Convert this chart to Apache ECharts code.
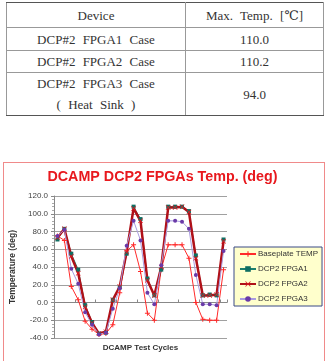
<!DOCTYPE html>
<html>
<head>
<meta charset="utf-8">
<script src="https://cdn.jsdelivr.net/npm/echarts@6/dist/echarts.min.js"></script>
<style>
    html, body { margin: 0; padding: 0; width: 325px; height: 361px; overflow: hidden; background: #fff; }
    #tbl {
        position: absolute; left: 6px; top: 2px; width: 318px;
        border-collapse: collapse;
        font-family: "Liberation Serif", "DejaVu Serif", serif;
        font-size: 13px; color: #333; word-spacing: 4px;
    }
    #tbl td { border: 1px solid #999; text-align: center; padding: 0; line-height: 21px; }
    #tbl tr:first-child td { border-top: 1px solid #555; }
    #tbl tr:last-child td { border-bottom: 1px solid #555; }
    #frame { position: absolute; left: 3px; top: 162px; width: 320px; height: 260px; border: 1px solid #f08a8a; }
    #chart { position: absolute; left: 0; top: 150px; width: 325px; height: 211px; }
</style>
</head>
<body>
<table id="tbl">
    <tr style="height:25px"><td style="width:178px">Device</td><td>Max. Temp. [℃]</td></tr>
    <tr style="height:23px"><td>DCP#2 FPGA1 Case</td><td>110.0</td></tr>
    <tr style="height:22px"><td>DCP#2 FPGA2 Case</td><td>110.2</td></tr>
    <tr style="height:43px"><td>DCP#2 FPGA3 Case<br>( Heat Sink )</td><td>94.0</td></tr>
</table>
<div id="frame"></div>
<div id="chart"></div>
<script>
// 25 test cycles, no labels on the x axis
const cycles = ['1', '2', '3', '4', '5', '6', '7', '8', '9', '10', '11', '12', '13',
    '14', '15', '16', '17', '18', '19', '20', '21', '22', '23', '24', '25'];

const baseplate = [75, 70, 18, 3, -21, -30, -36, -35, -25, 11, 58, 65, 35,
    -12, -20, 38, 65, 65, 65, 50, 0, -19, -20, -20, 37];
const fpga1 = [71, 83, 55, 37, -3, -22, -35, -34, 3, 17, 55, 108, 94,
    27, 8, 37, 108, 108, 108, 103, 53, 8, 9, 8, 71];
const fpga2 = [73, 83, 52, 33, -5, -23, -35, -33, 3, 18, 57, 106, 92,
    25, 8, 40, 107, 107, 108, 102, 50, 8, 8, 9, 69];
const fpga3 = [75, 82, 38, 21, -11, -25, -36, -34, -7, 16, 64, 92, 70,
    11, -2, 42, 92, 92, 91, 83, 31, -2, -2, -3, 58];

// маркеры "+" и "x" как в Excel
const plusIcon = 'path://M4,0H6V4H10V6H6V10H4V6H0V4H4Z';
const crossIcon = 'path://M1,0L5,4L9,0L10,1L6,5L10,9L9,10L5,6L1,10L0,9L4,5L0,1Z';

const chart = echarts.init(document.getElementById('chart'), null, { renderer: 'canvas' });

const option = {
    animation: false,
    title: {
        text: 'DCAMP DCP2 FPGAs Temp. (deg)',
        left: 'center',
        top: 20,
        padding: 0,
        textStyle: {
            color: '#e8191e',
            fontSize: 14.3,
            fontWeight: 'bold',
            fontFamily: 'Liberation Sans, Arial, sans-serif'
        }
    },
    legend: {
        orient: 'vertical',
        left: 234,
        top: 97,
        padding: [3, 4, 3, 5],
        itemWidth: 16,
        itemHeight: 7,
        itemGap: 7,
        backgroundColor: '#ffffcc',
        borderColor: '#3b4a86',
        borderWidth: 1,
        borderRadius: 0,
        textStyle: {
            color: '#333',
            fontSize: 8,
            padding: [0, 0, 0, -3],
            fontFamily: 'Liberation Sans, Arial, sans-serif'
        },
        data: ['Baseplate TEMP', 'DCP2 FPGA1', 'DCP2 FPGA2', 'DCP2 FPGA3']
    },
    grid: {
        left: 54,
        top: 46,
        width: 173,
        height: 142,
        containLabel: false
    },
    xAxis: {
        type: 'category',
        data: cycles,
        boundaryGap: true,
        name: 'DCAMP Test Cycles',
        nameLocation: 'middle',
        nameGap: 6,
        nameTextStyle: {
            color: '#333',
            fontSize: 8,
            fontWeight: 'bold',
            verticalAlign: 'top',
            fontFamily: 'Liberation Sans, Arial, sans-serif'
        },
        axisLine: { lineStyle: { color: '#888', width: 1 } },
        axisTick: { show: true, inside: true, length: 3, lineStyle: { color: '#888' } },
        axisLabel: { show: false },
        splitLine: { show: false }
    },
    yAxis: {
        type: 'value',
        min: -40,
        max: 120,
        interval: 20,
        name: 'Temperature (deg)',
        nameLocation: 'middle',
        nameGap: 29,
        nameTextStyle: {
            color: '#333',
            fontSize: 8.5,
            fontWeight: 'bold',
            fontFamily: 'Liberation Sans, Arial, sans-serif'
        },
        axisLine: { show: true, lineStyle: { color: '#888', width: 1 } },
        axisTick: { show: true, length: 3, lineStyle: { color: '#888' } },
        minorTick: { show: true, splitNumber: 5, length: 2, lineStyle: { color: '#aaa' } },
        axisLabel: {
            color: '#444',
            fontSize: 8,
            margin: 6,
            fontFamily: 'Liberation Sans, Arial, sans-serif',
            formatter: function (value) {
                return value.toFixed(1);
            }
        },
        splitLine: { show: true, lineStyle: { color: '#a0a0a0', width: 1 } }
    },
    series: [
        {
            name: 'Baseplate TEMP',
            type: 'line',
            data: baseplate,
            symbol: plusIcon,
            symbolSize: 5,
            showAllSymbol: true,
            lineStyle: { color: '#ff2a2a', width: 1 },
            itemStyle: { color: '#ff2a2a', borderWidth: 0 }
        },
        {
            name: 'DCP2 FPGA1',
            type: 'line',
            data: fpga1,
            symbol: 'rect',
            symbolSize: 4,
            showAllSymbol: true,
            lineStyle: { color: '#1c7f6e', width: 1 },
            itemStyle: { color: '#0f6e62' }
        },
        {
            name: 'DCP2 FPGA2',
            type: 'line',
            data: fpga2,
            symbol: crossIcon,
            symbolSize: 5,
            showAllSymbol: true,
            lineStyle: { color: '#b01018', width: 2.5 },
            itemStyle: { color: '#e01820', borderWidth: 0 }
        },
        {
            name: 'DCP2 FPGA3',
            type: 'line',
            data: fpga3,
            symbol: 'circle',
            symbolSize: 4,
            showAllSymbol: true,
            lineStyle: { color: '#a99be0', width: 1 },
            itemStyle: { color: '#6a3aa8', borderWidth: 0 }
        }
    ]
};

chart.setOption(option);
</script>
</body>
</html>
